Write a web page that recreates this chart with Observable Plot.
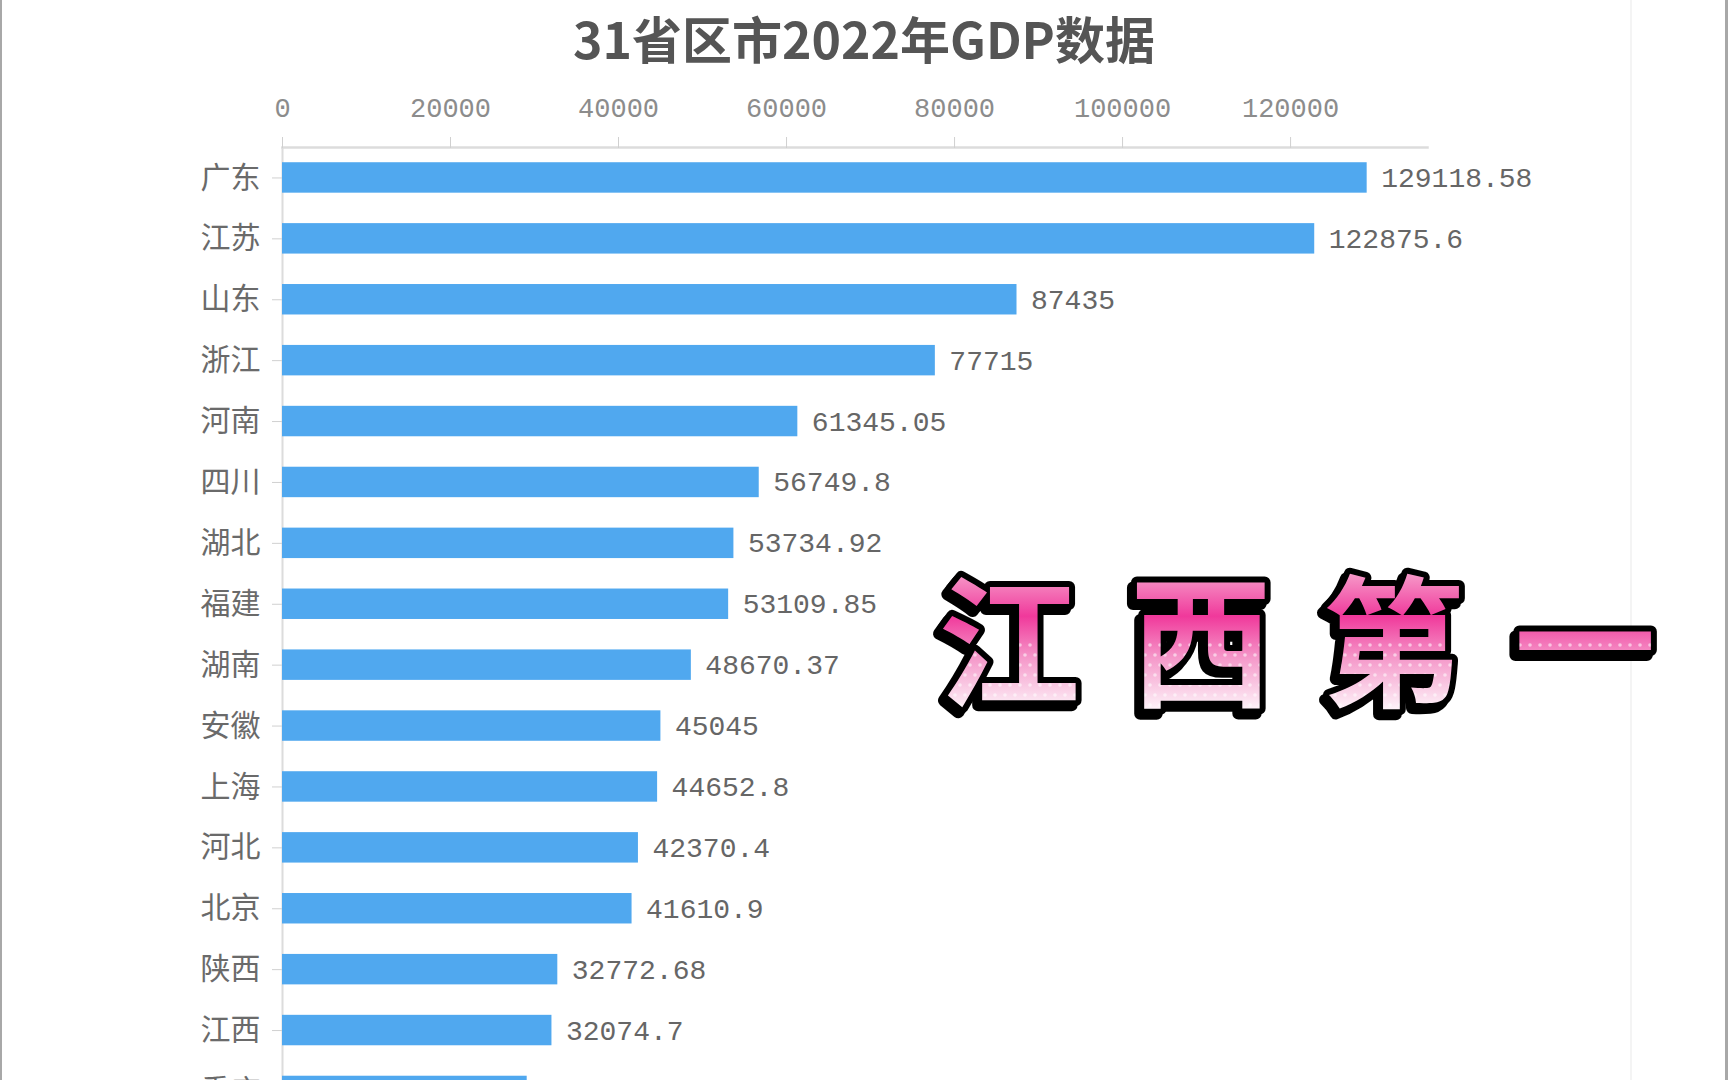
<!DOCTYPE html>
<html>
<head>
<meta charset="utf-8">
<script src="https://cdn.jsdelivr.net/npm/d3@7"></script>
<script src="https://cdn.jsdelivr.net/npm/@observablehq/plot@0.6"></script>
<style>
  html, body { margin: 0; padding: 0; background: #fff; overflow: hidden; }
  #page { position: relative; width: 1728px; height: 1080px; overflow: hidden; background: #fff; }
  #title { position: absolute; left: 0; top: 4px; width: 1728px; text-align: center;
    font-family: "Noto Sans CJK SC", sans-serif; font-weight: 700; font-size: 50px; color: #555; line-height: 66px; }
  #chart { position: absolute; left: 0; top: 0; }
  #overlay { position: absolute; left: 0; top: 0; pointer-events: none; }
  .bl { position: absolute; top: 0; height: 1080px; }
</style>
</head>
<body>
<div id="page">
  <div class="bl" style="left:0;width:2px;background:#a8a8a8"></div>
  <div class="bl" style="left:1630px;width:2px;background:#f4f4f4"></div>
  <div class="bl" style="left:1725px;width:3px;background:#a8a8a8"></div>
  <div id="chart"></div>
  <div id="title">31省区市2022年GDP数据</div>
  <svg id="overlay" width="1728" height="1080"></svg>
</div>
<script>
const provinces = ["广东","江苏","山东","浙江","河南","四川","湖北","福建","湖南","安徽","上海","河北","北京","陕西","江西","重庆"];
const gdp = [129118.58,122875.6,87435,77715,61345.05,56749.8,53734.92,53109.85,48670.37,45045,44652.8,42370.4,41610.9,32772.68,32074.7,29129.03];
const gdpLabels = ["129118.58","122875.6","87435","77715","61345.05","56749.8","53734.92","53109.85","48670.37","45045","44652.8","42370.4","41610.9","32772.68","32074.7","29129.03"];
const xTicks = [0,20000,40000,60000,80000,100000,120000];
const xMax = 136300;
const overlayText = "江西第一";

const data = provinces.map((p, i) => ({province: p, gdp: gdp[i], label: gdpLabels[i]}));

const step = 60.9;
const mTop = 147;
const plotH = Math.round(mTop + step * provinces.length);
const chart = Plot.plot({
  width: 1728,
  height: plotH,
  marginTop: mTop,
  marginLeft: 282,
  marginRight: 301,
  marginBottom: 0,
  style: {background: "transparent", overflow: "visible"},
  x: {domain: [0, xMax], axis: null},
  y: {domain: provinces, range: [mTop, mTop + step * provinces.length], paddingInner: 0.5, paddingOuter: 0.25, round: false, axis: null},
  marks: [
    Plot.frame({anchor: "top", stroke: "#dcdcdc", strokeWidth: 2.5}),
    Plot.ruleX([0], {stroke: "#dcdcdc", strokeWidth: 2}),
    Plot.axisX({anchor: "top", ticks: xTicks, tickSize: 11, tickPadding: 20, tickFormat: d => String(d),
      stroke: "#d0d0d0", fill: "#8c8c8c", fontSize: 27, fontFamily: "Liberation Mono, monospace", label: null}),
    Plot.axisY({anchor: "left", tickSize: 10, tickPadding: 12, stroke: "#d0d0d0", fill: "#6a6a6a",
      fontSize: 30, fontFamily: "Noto Sans CJK SC, sans-serif", label: null}),
    Plot.barX(data, {x: "gdp", y: "province", fill: "#50a8ef"}),
    Plot.text(data, {x: "gdp", y: "province", text: "label", dx: 14, textAnchor: "start",
      fill: "#666", fontSize: 28, fontFamily: "Liberation Mono, monospace"})
  ]
});
document.getElementById("chart").appendChild(chart);

// decorative overlay caption (single text element)
const svg = d3.select("#overlay");
const defs = svg.append("defs");
// pattern content coordinates: origin at (900, 540)
const grad = defs.append("linearGradient").attr("id", "pink")
  .attr("gradientUnits", "userSpaceOnUse").attr("x1", 0).attr("y1", 27).attr("x2", 0).attr("y2", 176);
grad.append("stop").attr("offset", "0%").attr("stop-color", "#f7a8d0");
grad.append("stop").attr("offset", "33%").attr("stop-color", "#f0399b");
grad.append("stop").attr("offset", "62%").attr("stop-color", "#f59bcb");
grad.append("stop").attr("offset", "100%").attr("stop-color", "#ffffff");
const pat = defs.append("pattern").attr("id", "fillPat").attr("patternUnits", "userSpaceOnUse")
  .attr("x", 900).attr("y", 540).attr("width", 800).attr("height", 220);
pat.append("rect").attr("width", 800).attr("height", 220).attr("fill", "url(#pink)");
const dotG = pat.append("g").attr("fill", "#fff").attr("opacity", 0.55);
for (let yy = 105; yy < 220; yy += 10) {
  for (let xx = ((yy / 10) % 2 < 1 ? 0 : 5); xx < 800; xx += 10) {
    dotG.append("circle").attr("cx", xx).attr("cy", yy).attr("r", 1.8);
  }
}

svg.append("text")
  .attr("x", 938).attr("y", 634).attr("dominant-baseline", "central")
  .style("font-family", "Noto Sans CJK SC, sans-serif").style("font-weight", 700)
  .style("font-size", "142px").style("letter-spacing", "50px")
  .attr("fill", "url(#fillPat)").attr("stroke", "#000").attr("stroke-width", 12)
  .attr("stroke-linejoin", "round").style("paint-order", "stroke")
  .style("filter", "drop-shadow(-4px 5px 0 #000)")
  .text(overlayText);
</script>
</body>
</html>
